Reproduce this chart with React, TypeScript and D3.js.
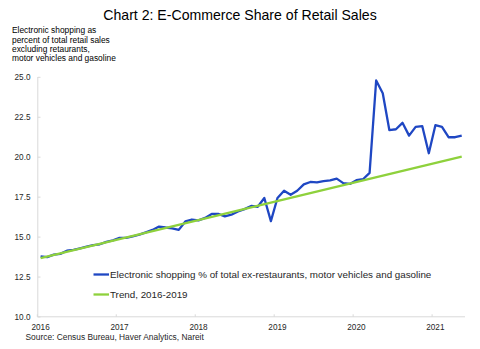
import React from "react";
import * as d3 from "d3";

const startYear = 2016;
const monthCount = 65; // Jan 2016 .. May 2021
const months: string[] = Array.from({ length: monthCount }, (_, i) => {
  const y = startYear + Math.floor(i / 12);
  const m = (i % 12) + 1;
  return `${y}-${String(m).padStart(2, "0")}`;
});

const ecommerceShare: number[] = [
  13.8, 13.75, 13.9, 13.95, 14.15, 14.2, 14.3, 14.4, 14.5, 14.55, 14.7, 14.8,
  14.95, 14.95, 15.05, 15.15, 15.3, 15.45, 15.66, 15.6, 15.55, 15.45, 15.98, 16.1,
  16.05, 16.2, 16.45, 16.45, 16.3, 16.4, 16.6, 16.75, 16.95, 16.9, 17.45, 16.0,
  17.45, 17.9, 17.65, 17.9, 18.3, 18.45, 18.42, 18.5, 18.55, 18.66, 18.38, 18.33,
  18.56, 18.62, 19.02, 24.8, 24.0, 21.7, 21.75, 22.15, 21.35, 21.9, 21.95, 20.25,
  22.0, 21.9, 21.25, 21.25, 21.35,
];

const trendMonths: string[] = ["2016-01", "2021-05"];
const trendValues: number[] = [13.69, 20.04];

const yTicks: number[] = [10, 12.5, 15, 17.5, 20, 22.5, 25];
const xTickLabels: string[] = ["2016", "2017", "2018", "2019", "2020", "2021"];

const title = "Chart 2: E-Commerce Share of Retail Sales";
const subtitleLines = [
  "Electronic shopping as",
  "percent of total retail sales",
  "excluding retaurants,",
  "motor vehicles and gasoline",
];
const legendLabels = [
  "Electronic shopping % of total ex-restaurants, motor vehicles and gasoline",
  "Trend, 2016-2019",
];
const source = "Source: Census Bureau, Haver Analytics, Nareit";

const BLUE = "#1f47c3";
const GREEN = "#8ed13c";
const FONT = "'Liberation Sans', Arial, sans-serif";

export default function App() {
  const W = 480, H = 349;
  const x = d3.scaleBand<string>().domain(months).range([37.3, 465]);
  const y = d3.scaleLinear().domain([10, 25]).range([317, 77.3]);
  const cx = (m: string) => (x(m) as number) + x.bandwidth() / 2;

  const line = d3
    .line<number>()
    .x((_, i) => cx(months[i]))
    .y((d) => y(d));
  const trendLine = d3
    .line<number>()
    .x((_, i) => cx(trendMonths[i]))
    .y((d) => y(d));

  const axisColor = "#d9d9d9";
  const textColor = "#262626";

  return (
    <svg
      width={W}
      height={H}
      style={{ position: "absolute", left: 0, top: 0, background: "#fff" }}
      fontFamily={FONT}
    >
      <text x={240} y={19.5} textAnchor="middle" fontSize={14.1} fill="#000">
        {title}
      </text>
      {subtitleLines.map((t, i) => (
        <text key={i} x={12} y={33.3 + i * 9.35} fontSize={8.4} fill="#000">
          {t}
        </text>
      ))}

      {/* axes */}
      <line x1={37.8} x2={37.8} y1={77} y2={317} stroke={axisColor} strokeWidth={1} />
      <line x1={37.3} x2={465} y1={316.8} y2={316.8} stroke={axisColor} strokeWidth={1} />
      {yTicks.map((t) => (
        <g key={t}>
          <line x1={37.8} x2={40.5} y1={y(t)} y2={y(t)} stroke={axisColor} />
          <text
            x={30.5}
            y={y(t)}
            dy="0.35em"
            textAnchor="end"
            fontSize={8.2}
            fill={textColor}
          >
            {t.toFixed(1)}
          </text>
        </g>
      ))}
      {xTickLabels.map((yr) => {
        const m = `${yr}-01`;
        const bx = x(m) as number;
        return (
          <g key={yr}>
            <line x1={bx} x2={bx} y1={316.8} y2={314.3} stroke={axisColor} />
            <text
              x={cx(m)}
              y={327}
              dy="0.35em"
              textAnchor="middle"
              fontSize={8.2}
              fill={textColor}
            >
              {yr}
            </text>
          </g>
        );
      })}

      {/* series */}
      <path
        d={line(ecommerceShare) || ""}
        fill="none"
        stroke={BLUE}
        strokeWidth={2.3}
        strokeLinejoin="round"
      />
      <path
        d={trendLine(trendValues) || ""}
        fill="none"
        stroke={GREEN}
        strokeWidth={2.3}
      />

      {/* legend */}
      <line x1={93.5} x2={109} y1={274.5} y2={274.5} stroke={BLUE} strokeWidth={2.3} />
      <text x={110} y={274.5} dy="0.35em" fontSize={9.8} fill={textColor}>
        {legendLabels[0]}
      </text>
      <line x1={93.5} x2={109} y1={294.5} y2={294.5} stroke={GREEN} strokeWidth={2.3} />
      <text x={110} y={294.5} dy="0.35em" fontSize={9.8} fill={textColor}>
        {legendLabels[1]}
      </text>

      <text x={25.5} y={337.5} dy="0.35em" fontSize={8.4} fill={textColor}>
        {source}
      </text>
    </svg>
  );
}
